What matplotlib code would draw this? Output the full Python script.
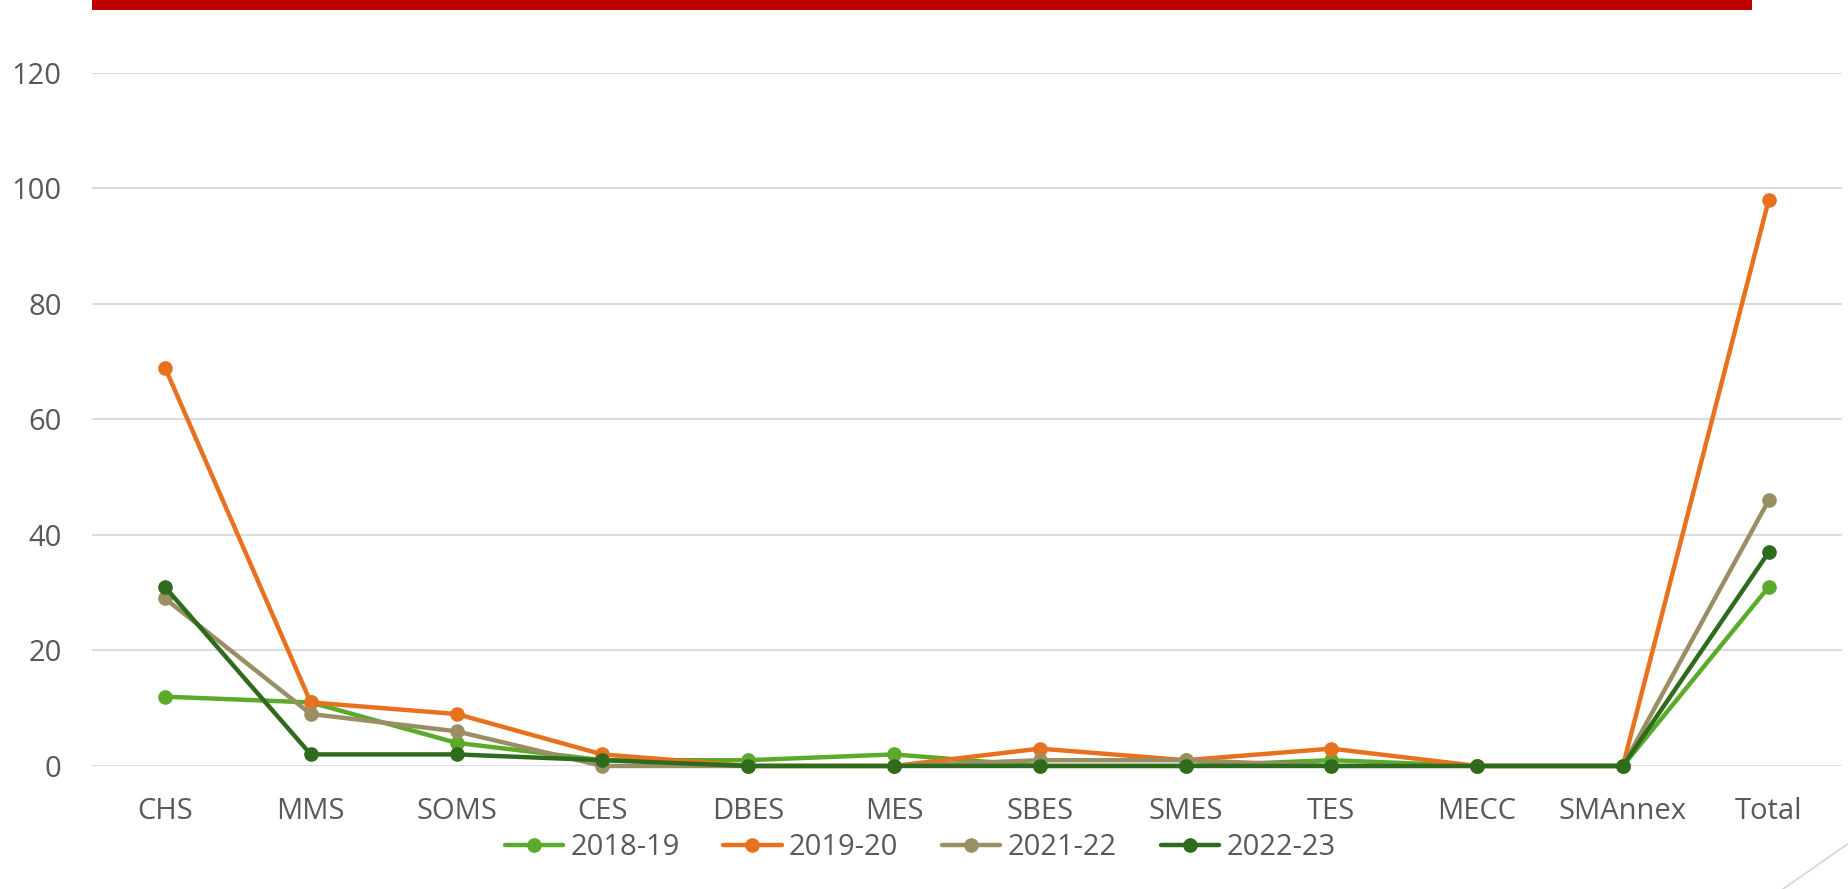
import matplotlib
matplotlib.use("Agg")
import matplotlib.pyplot as plt
from matplotlib.patches import Rectangle
from matplotlib.lines import Line2D

categories = ["CHS", "MMS", "SOMS", "CES", "DBES", "MES", "SBES", "SMES", "TES", "MECC", "SMAnnex", "Total"]
s2018_19 = [12, 11, 4, 1, 1, 2, 0, 0, 1, 0, 0, 31]
s2019_20 = [69, 11, 9, 2, 0, 0, 3, 1, 3, 0, 0, 98]
s2021_22 = [29, 9, 6, 0, 0, 0, 1, 1, 0, 0, 0, 46]
s2022_23 = [31, 2, 2, 1, 0, 0, 0, 0, 0, 0, 0, 37]
series_labels = ["2018-19", "2019-20", "2021-22", "2022-23"]
y_ticks = [0, 20, 40, 60, 80, 100, 120]

colors = ["#5AAA2C", "#E8711F", "#9A8F64", "#2E6B1C"]

plt.rcParams['font.family'] = ['Open Sans', 'DejaVu Sans']

fig = plt.figure(figsize=(18.49, 8.89), dpi=100)
ax = fig.add_axes([0.0498, 0.1384, 0.9462, 0.7795])

x = list(range(len(categories)))
for vals, lab, c in zip([s2018_19, s2019_20, s2021_22, s2022_23], series_labels, colors):
    ax.plot(x, vals, color=c, lw=3.2, marker='o', markersize=9.5, label=lab,
            solid_joinstyle='round', solid_capstyle='round', clip_on=False)

ax.set_xlim(-0.5, len(categories) - 0.5)
ax.set_ylim(0, 120)
ax.set_yticks(y_ticks)
ax.set_xticks(x)
ax.set_xticklabels(categories)
ax.yaxis.grid(True, color="#D9D9D9", lw=1.3)
ax.set_axisbelow(True)
for sp in ax.spines.values():
    sp.set_visible(False)
ax.tick_params(axis='both', length=0, labelsize=21, colors="#595959")
ax.tick_params(axis='y', pad=22)
ax.tick_params(axis='x', pad=22)
ax.patch.set_alpha(0)

fig.legend(loc='center', bbox_to_anchor=(0.4975, 0.047), ncol=4, frameon=False,
           fontsize=21, handlelength=2.0, columnspacing=1.5, handletextpad=0.25,
           labelcolor="#595959")

# Top red bar
fig.add_artist(Rectangle((0.0498, 0.9885), 0.898, 0.02, transform=fig.transFigure,
                         facecolor="#C00000", edgecolor="none"))
# Faint decorative diagonal line at bottom right
fig.add_artist(Line2D([1.0, 0.9643], [0.0517, 0.0], transform=fig.transFigure,
                      color="#D6D6D6", lw=1.2))

fig.savefig("out.png", dpi=100)
